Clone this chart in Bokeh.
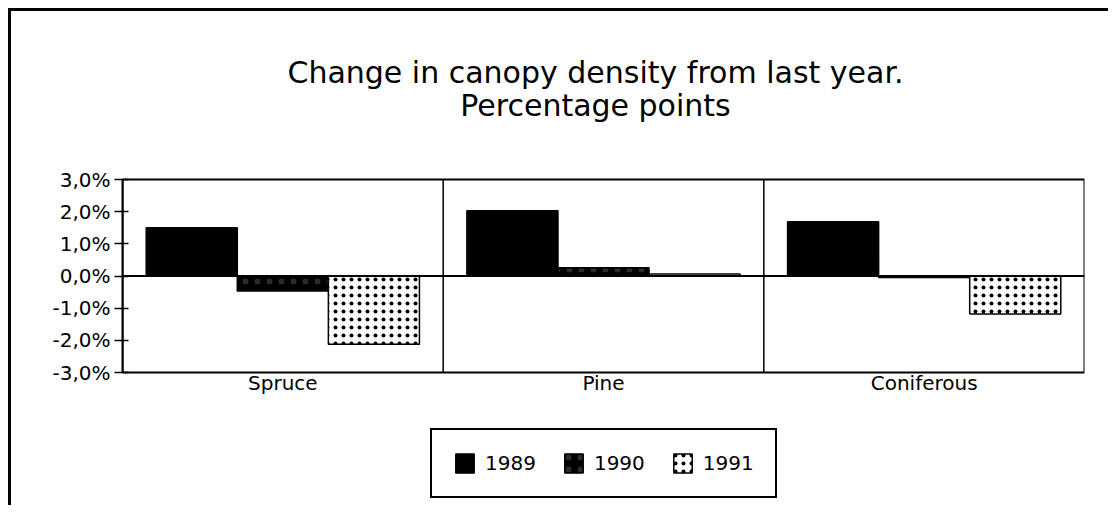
from bokeh.plotting import figure
from bokeh.models import (ColumnDataSource, FactorRange, Range1d, FixedTicker,
                          Legend, LegendItem, Label)
from bokeh.transform import dodge
from bokeh.embed import file_html
from bokeh.resources import INLINE

# ---- data ----
categories = ["Spruce", "Pine", "Coniferous"]
years = ["1989", "1990", "1991"]
v1989 = [1.50, 2.03, 1.69]
v1990 = [-0.47, 0.26, -0.05]
v1991 = [-2.12, 0.06, -1.18]
y_ticks = [-3, -2, -1, 0, 1, 2, 3]
y_tick_labels = ["-3,0%", "-2,0%", "-1,0%", "0,0%", "1,0%", "2,0%", "3,0%"]
title_lines = ["Change in canopy density from last year.", "Percentage points"]

FONT = "DejaVu Sans"

# ---- layout geometry (page pixels) ----
ORIGIN = 11            # canvas origin after 8px margin + 3px border
CANVAS_W, CANVAS_H = 1100, 497
BOX_TOP, BOX_BOTTOM = 179, 372
FRAME_TOP = ORIGIN
FRAME_BOTTOM = ORIGIN + CANVAS_H
ymin, ymax = y_ticks[0], y_ticks[-1]
ppu = (BOX_BOTTOM - BOX_TOP) / (ymax - ymin)
y_start = ymin - (FRAME_BOTTOM - BOX_BOTTOM) / ppu
y_end = ymax + (BOX_TOP - FRAME_TOP) / ppu

src = ColumnDataSource(dict(cat=categories, y1989=v1989, y1990=v1990, y1991=v1991))

p = figure(width=CANVAS_W, height=CANVAS_H, x_range=FactorRange(*categories),
           y_range=Range1d(y_start, y_end), output_backend="svg", toolbar_location=None,
           min_border_left=111, min_border_top=0, min_border_right=27,
           min_border_bottom=0, title=None)
p.styles = {"border-left": "3px solid black", "border-top": "3px solid black",
            "margin-left": "8px", "margin-top": "8px"}
p.outline_line_color = None
p.xgrid.grid_line_color = None
p.ygrid.grid_line_color = None

# plot box
p.quad(left=[0], right=[len(categories)], bottom=[ymin], top=[ymax],
       fill_color=None, line_color="black", line_width=2)

bw = 0.284
r1 = p.vbar(x=dodge("cat", -bw, range=p.x_range), top="y1989", bottom=0, width=bw,
            source=src, fill_color="black", line_color="black", line_width=1.5)
r2 = p.vbar(x=dodge("cat", 0, range=p.x_range), top="y1990", bottom=0, width=bw,
            source=src, fill_color="black", line_color="black", line_width=1.5,
            hatch_pattern="dot", hatch_color="#555555", hatch_scale=12,
            hatch_weight=0.5, hatch_alpha=0.5)
r3 = p.vbar(x=dodge("cat", bw, range=p.x_range), top="y1991", bottom=0, width=bw,
            source=src, fill_color="white", line_color="black", line_width=1.5,
            hatch_pattern="dot", hatch_color="black", hatch_scale=8,
            hatch_weight=2)

# zero line and category separators
p.segment(x0=[0], x1=[len(categories)], y0=[0], y1=[0], line_color="black", line_width=2)
p.segment(x0=list(range(1, len(categories))), x1=list(range(1, len(categories))),
          y0=[ymin] * (len(categories) - 1), y1=[ymax] * (len(categories) - 1),
          line_color="black", line_width=1.5)

# axes
p.yaxis.ticker = FixedTicker(ticks=y_ticks)
p.yaxis.bounds = (ymin, ymax)
p.yaxis.major_label_overrides = {t: s for t, s in zip(y_ticks, y_tick_labels)}
p.yaxis.major_label_text_font = FONT
p.yaxis.major_label_text_font_size = "20px"
p.yaxis.major_label_text_color = "black"
p.yaxis.axis_line_color = "black"
p.yaxis.axis_line_width = 2
p.yaxis.major_tick_in = 6
p.yaxis.major_tick_out = 8
p.yaxis.major_tick_line_width = 1.5
p.yaxis.major_tick_line_color = "black"
p.yaxis.minor_tick_line_color = None
p.yaxis.major_label_standoff = 4

p.xaxis.fixed_location = ymin
p.xaxis.axis_line_color = None
p.xaxis.major_tick_line_color = None
p.xaxis.minor_tick_line_color = None
p.xaxis.major_tick_in = 0
p.xaxis.major_tick_out = 0
p.xaxis.major_label_text_font = FONT
p.xaxis.major_label_text_font_size = "20px"
p.xaxis.major_label_text_color = "black"
p.xaxis.major_label_standoff = -2

# title (screen units relative to frame bottom-left)
TITLE_CX = 595
for txt, base in zip(title_lines, [72, 105]):
    p.add_layout(Label(x=TITLE_CX - 122, y=FRAME_BOTTOM - base, x_units="screen",
                       y_units="screen", text=txt, text_align="center",
                       text_baseline="alphabetic", text_font=FONT,
                       text_font_size="30px", text_color="black"))

legend = Legend(items=[LegendItem(label=years[0], renderers=[r1]),
                       LegendItem(label=years[1], renderers=[r2]),
                       LegendItem(label=years[2], renderers=[r3])],
                orientation="horizontal", location=(430 - 122, FRAME_BOTTOM - 498),
                border_line_color="black", border_line_width=2, border_line_alpha=1,
                padding=21, spacing=26, glyph_width=23, glyph_height=24,
                label_standoff=9, margin=0,
                label_text_font=FONT, label_text_font_size="20px",
                label_text_color="black", background_fill_color="white")
p.add_layout(legend, "center")

open("out.html", "w").write(file_html(p, INLINE))
